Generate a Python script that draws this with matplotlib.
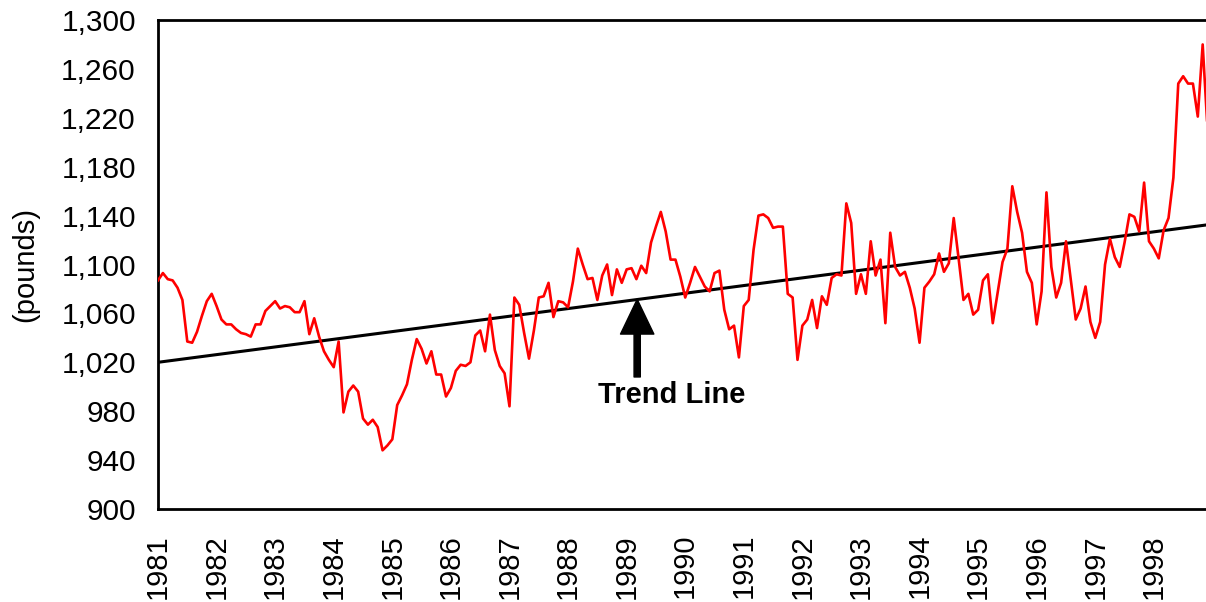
import numpy as np
import matplotlib
matplotlib.use("Agg")
import matplotlib.pyplot as plt
from matplotlib.ticker import FuncFormatter

plt.rcParams['font.family'] = ['Liberation Sans', 'DejaVu Sans']

# monthly values, Jan 1981 .. Dec 1998 (pounds)
start_year = 1981
values = [
    1087, 1093, 1088, 1087, 1081, 1071, 1037, 1036, 1045, 1058, 1070, 1076,  # 1981
    1066, 1055, 1051, 1051, 1047, 1044, 1043, 1041, 1051, 1051, 1062, 1066,  # 1982
    1070, 1064, 1066, 1065, 1061, 1061, 1070, 1043, 1056, 1041, 1029, 1022,  # 1983
    1016, 1037, 979, 996, 1001, 996, 974, 969, 973, 967, 948, 952,          # 1984
    957, 985, 993, 1002, 1022, 1039, 1031, 1019, 1029, 1010, 1010, 992,     # 1985
    999, 1013, 1018, 1017, 1020, 1042, 1046, 1029, 1059, 1030, 1017, 1011,  # 1986
    984, 1073, 1067, 1044, 1023, 1046, 1073, 1074, 1085, 1057, 1070, 1069,  # 1987
    1065, 1086, 1113, 1100, 1088, 1089, 1071, 1091, 1100, 1075, 1096, 1085,  # 1988
    1096, 1097, 1088, 1099, 1093, 1118, 1131, 1143, 1127, 1104, 1104, 1090,  # 1989
    1073, 1085, 1098, 1090, 1082, 1078, 1093, 1095, 1063, 1047, 1050, 1024,  # 1990
    1066, 1071, 1112, 1140, 1141, 1138, 1130, 1131, 1131, 1076, 1073, 1022,  # 1991
    1050, 1055, 1071, 1048, 1074, 1067, 1089, 1092, 1091, 1150, 1134, 1076,  # 1992
    1092, 1076, 1119, 1091, 1104, 1052, 1126, 1098, 1091, 1094, 1081, 1064,  # 1993
    1036, 1081, 1086, 1092, 1109, 1094, 1101, 1138, 1105, 1071, 1076, 1059,  # 1994
    1063, 1087, 1092, 1052, 1077, 1102, 1113, 1164, 1143, 1126, 1094, 1085,  # 1995
    1051, 1078, 1159, 1098, 1073, 1085, 1119, 1087, 1055, 1064, 1082, 1053,  # 1996
    1040, 1053, 1100, 1121, 1106, 1098, 1118, 1141, 1139, 1127, 1167, 1119,  # 1997
    1113, 1105, 1128, 1138, 1171, 1248, 1254, 1248, 1248, 1221, 1280, 1210,  # 1998
]

# trend line end points
trend_years = [1981, 1999]
trend_vals = [1020, 1133]

year_ticks = list(range(1981, 1999))
y_ticks = list(range(900, 1301, 40))

arrow_tip = (1989.18, 1071.5)
arrow_tail = (1989.18, 1008)
label_pos = (1989.77, 993)

x = start_year + np.arange(len(values)) / 12.0

fig = plt.figure(figsize=(12.06, 6.02), dpi=100)
ax = fig.add_axes([158 / 1206, 1 - 509 / 602, 1 - 158 / 1206, 489 / 602])

ax.plot(trend_years, trend_vals, color='black', lw=2.2, zorder=2)
ax.plot(x, values, color='#ff0000', lw=1.9, zorder=3)

ax.annotate('', xy=arrow_tip, xytext=arrow_tail,
            arrowprops=dict(facecolor='black', edgecolor='black',
                            width=4.5, headwidth=24, headlength=25, shrink=0))
ax.text(label_pos[0], label_pos[1], 'Trend Line', fontsize=21,
        fontweight='bold', ha='center', va='center')

ax.set_xlim(1981, 1998.89)
ax.set_ylim(900, 1300)
ax.set_xticks(year_ticks)
ax.set_xticklabels([str(y) for y in year_ticks], rotation=90, fontsize=21)
ax.set_yticks(y_ticks)
ax.yaxis.set_major_formatter(FuncFormatter(lambda v, p: f"{int(v):,}"))
ax.tick_params(axis='y', labelsize=21.5, length=0, pad=16)
ax.tick_params(axis='x', length=0, pad=18)
ax.set_ylabel('(pounds)', fontsize=21, labelpad=16)

for side in ['left', 'bottom', 'top']:
    ax.spines[side].set_linewidth(2)
ax.spines['right'].set_visible(False)

fig.savefig('out.png', dpi=100)
